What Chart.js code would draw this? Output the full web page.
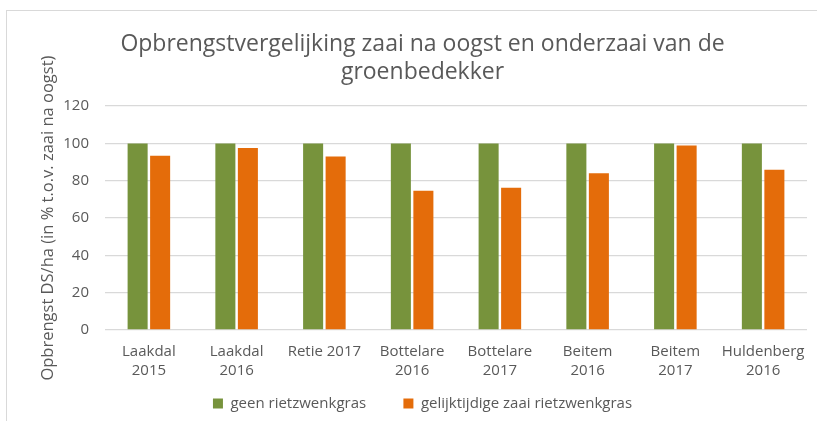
<html>

<head>
    <meta charset="utf-8">
    <title>Opbrengstvergelijking</title>
    <script src="https://cdn.jsdelivr.net/npm/chart.js@4.4.1/dist/chart.umd.min.js"></script>
    <style>
        body { margin: 0; background: #fff; }
        #wrap { position: relative; width: 817px; height: 421px; overflow: hidden; }
        #frame { position: absolute; left: 6px; top: 10px; width: 900px; height: 500px; border: 1px solid #d9d9d9; }
        canvas { position: absolute; left: 0; top: 0; }
    </style>
</head>

<body>
    <div id="wrap">
        <div id="frame"></div>
        <canvas id="myChart" width="817" height="421"></canvas>
    </div>
    <script>
        const labels = [
            ['Laakdal', '2015'], ['Laakdal', '2016'], 'Retie 2017', ['Bottelare', '2016'],
            ['Bottelare', '2017'], ['Beitem', '2016'], ['Beitem', '2017'], ['Huldenberg', '2016']
        ];
        const geenValues = [100, 100, 100, 100, 100, 100, 100, 100];
        const gelijktijdigValues = [93.4, 97.5, 93.0, 74.6, 76.2, 84.0, 98.9, 85.9];
        const yTicks = [0, 20, 40, 60, 80, 100, 120];

        const GREEN = '#77933c';
        const ORANGE = '#e46c0a';
        const TEXT = '#595959';
        const FONT = "'Open Sans'";

        const ctx = document.getElementById('myChart');
        const data = {
            labels: labels,
            datasets: [
                {
                    label: 'geen rietzwenkgras',
                    data: geenValues,
                    backgroundColor: GREEN,
                    barPercentage: 0.89,
                    categoryPercentage: 0.513
                },
                {
                    label: 'gelijktijdige zaai rietzwenkgras',
                    data: gelijktijdigValues,
                    backgroundColor: ORANGE,
                    barPercentage: 0.89,
                    categoryPercentage: 0.513
                }
            ]
        };
        const config = {
            type: 'bar',
            data: data,
            options: {
                responsive: false,
                animation: false,
                layout: { padding: { left: 38, right: 10, top: 0, bottom: 0 } },
                plugins: {
                    title: {
                        display: true,
                        text: ['Opbrengstvergelijking zaai na oogst en onderzaai van de', 'groenbedekker'],
                        color: TEXT,
                        font: { family: FONT, size: 23, weight: 'normal', lineHeight: 1.22 },
                        padding: { top: 30, bottom: 20 }
                    },
                    legend: {
                        position: 'bottom',
                        labels: {
                            color: TEXT,
                            font: { family: FONT, size: 15 },
                            boxWidth: 10,
                            boxHeight: 10,
                            padding: 10,
                            generateLabels: function (chart) {
                                const items = Chart.defaults.plugins.legend.labels.generateLabels(chart);
                                items.forEach(function (it) { it.lineWidth = 0; });
                                items[0].text = items[0].text + '       ';
                                return items;
                            }
                        }
                    },
                    tooltip: { enabled: false }
                },
                scales: {
                    x: {
                        grid: { display: false },
                        border: { display: false },
                        afterFit: function (scale) { scale.height = 56; },
                        ticks: {
                            color: TEXT,
                            font: { family: FONT, size: 15, lineHeight: 1.27 },
                            padding: 4,
                            maxRotation: 0,
                            autoSkip: false
                        }
                    },
                    y: {
                        min: 0,
                        max: 120,
                        afterBuildTicks: function (axis) { axis.ticks = yTicks.map(v => ({ value: v })); },
                        afterFit: function (scale) { scale.width = 67; },
                        grid: { color: '#d9d9d9', lineWidth: 1.3, drawTicks: false },
                        border: { display: false },
                        ticks: {
                            color: TEXT,
                            font: { family: FONT, size: 15 },
                            padding: 16
                        },
                        title: {
                            display: true,
                            text: 'Opbrengst DS/ha (in % t.o.v. zaai na oogst)',
                            color: TEXT,
                            font: { family: FONT, size: 16.5, lineHeight: 1.2 },
                            padding: { top: 0, bottom: 6 }
                        }
                    }
                }
            }
        };
        const myChart = new Chart(ctx, config);
    </script>
</body>

</html>
